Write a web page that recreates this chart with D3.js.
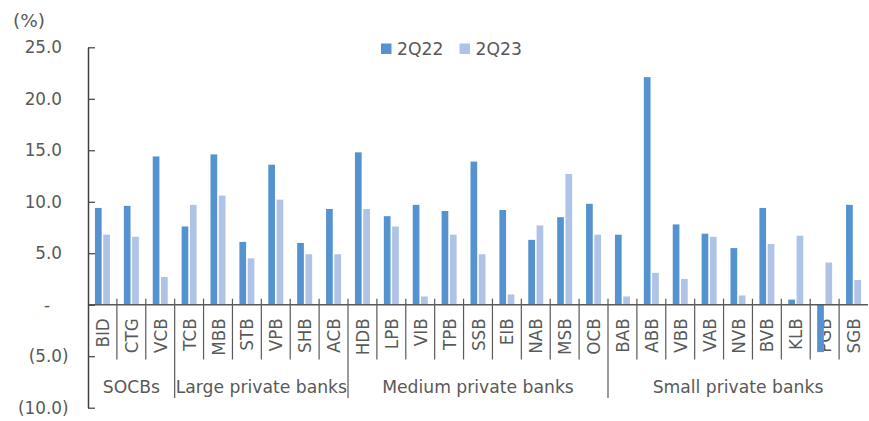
<!DOCTYPE html>
<html>
<head>
<meta charset="utf-8">
<script src="https://cdn.jsdelivr.net/npm/d3@7"></script>
<style>
  html, body { margin: 0; padding: 0; background: #fff; }
  svg { display: block; font-family: "DejaVu Sans", Verdana, sans-serif; }
</style>
</head>
<body>
<svg id="chart" width="869" height="421"></svg>
<script>
// ---- data ----
const categories = ["BID","CTG","VCB","TCB","MBB","STB","VPB","SHB","ACB","HDB","LPB","VIB","TPB","SSB","EIB","NAB","MSB","OCB","BAB","ABB","VBB","VAB","NVB","BVB","KLB","PGB","SGB"];
const groups = ["SOCBs","Large private banks","Medium private banks","Small private banks"];
const groupSizes = [3, 6, 9, 9];
const seriesNames = ["2Q22","2Q23"];
const values2Q22 = [9.4, 9.6, 14.4, 7.6, 14.6, 6.1, 13.6, 6.0, 9.3, 14.8, 8.6, 9.7, 9.1, 13.9, 9.2, 6.3, 8.5, 9.8, 6.8, 22.1, 7.8, 6.9, 5.5, 9.4, 0.5, -4.6, 9.7];
const values2Q23 = [6.8, 6.6, 2.7, 9.7, 10.6, 4.5, 10.2, 4.9, 4.9, 9.3, 7.6, 0.8, 6.8, 4.9, 1.0, 7.7, 12.7, 6.8, 0.8, 3.1, 2.5, 6.6, 0.9, 5.9, 6.7, 4.1, 2.4];
const yTicks = [-10, -5, 0, 5, 10, 15, 20, 25];
const colors = ["#5592D0", "#AEC3E7"];

// ---- layout ----
const svg = d3.select("#chart");
const plotLeft = 88, plotRight = 868, plotTop = 47.3, plotBottom = 407.7;
const textColor = "#595959";
const axisColor = "#595959";

const x = d3.scaleBand().domain(categories).range([plotLeft, plotRight]).paddingInner(0).paddingOuter(0);
const xs = d3.scaleBand().domain(seriesNames).range([0, x.bandwidth()]).paddingInner(0.193).paddingOuter(0.837);
const y = d3.scaleLinear().domain([-10, 25]).range([plotBottom, plotTop]);

const seriesData = [values2Q22, values2Q23];

// category labels (drawn before bars so bars overlap them)
svg.append("g").selectAll("text").data(categories).join("text")
  .attr("transform", d => `translate(${x(d) + x.bandwidth()/2 + 0.5},${y(0) + 13.5}) rotate(-90)`)
  .attr("text-anchor", "end")
  .attr("dy", "0.36em")
  .attr("font-size", 16.8)
  .attr("fill", textColor)
  .text(d => d);

// separators
const groupStarts = [];
let acc = 0;
groupSizes.forEach(s => { groupStarts.push(acc); acc += s; });
const sepG = svg.append("g").attr("stroke", axisColor).attr("stroke-width", 1.2);
d3.range(1, categories.length).forEach(i => {
  const isGroup = groupStarts.includes(i);
  const xx = plotLeft + i * x.step();
  sepG.append("line")
    .attr("x1", xx).attr("x2", xx)
    .attr("y1", y(0) - 6).attr("y2", isGroup ? 398 : 359.5);
});

// group labels
svg.append("g").selectAll("text").data(groups).join("text")
  .attr("x", (d, i) => {
    const a = plotLeft + groupStarts[i] * x.step();
    const b = plotLeft + (groupStarts[i] + groupSizes[i]) * x.step();
    return (a + b) / 2;
  })
  .attr("y", 387)
  .attr("dy", "0.36em")
  .attr("text-anchor", "middle")
  .attr("font-size", 17.2)
  .attr("fill", textColor)
  .text(d => d);

// bars
seriesNames.forEach((s, si) => {
  svg.append("g").selectAll("rect").data(categories).join("rect")
    .attr("x", d => x(d) + xs(s))
    .attr("width", xs.bandwidth())
    .attr("y", (d, i) => y(Math.max(0, seriesData[si][i])))
    .attr("height", (d, i) => Math.abs(y(seriesData[si][i]) - y(0)))
    .attr("fill", colors[si]);
});

// zero line
svg.append("line")
  .attr("x1", plotLeft).attr("x2", plotRight)
  .attr("y1", y(0)).attr("y2", y(0))
  .attr("stroke", axisColor).attr("stroke-width", 1.5);

// y axis
const yAxis = d3.axisLeft(y)
  .tickValues(yTicks)
  .tickSizeInner(-7)
  .tickSizeOuter(0)
  .tickPadding(26)
  .tickFormat(v => v > 0 ? d3.format(".1f")(v) : v < 0 ? "(" + d3.format(".1f")(-v) + ")" : "-");
const yg = svg.append("g").attr("transform", `translate(${plotLeft},0)`).call(yAxis);
yg.select(".domain").attr("stroke", "#404040").attr("stroke-width", 1.5);
yg.selectAll(".tick line").attr("stroke", "#404040").attr("stroke-width", 1.2);
yg.selectAll(".tick text")
  .attr("font-size", 16.8)
  .attr("font-family", "DejaVu Sans, Verdana, sans-serif")
  .attr("fill", textColor)
  .attr("x", d => d < 0 ? -19.5 : d === 0 ? -41 : -26)
  .attr("text-anchor", d => d === 0 ? "middle" : "end");

// unit label
svg.append("text")
  .attr("x", 13).attr("y", 20).attr("dy", "0.36em")
  .attr("font-size", 18.5).attr("fill", textColor)
  .text("(%)");

// legend
const legend = svg.append("g");
const legendX = [381, 459.5];
seriesNames.forEach((s, i) => {
  legend.append("rect")
    .attr("x", legendX[i]).attr("y", 43.5)
    .attr("width", 10.5).attr("height", 10.5)
    .attr("fill", colors[i]);
  legend.append("text")
    .attr("x", legendX[i] + 16).attr("y", 48.8).attr("dy", "0.36em")
    .attr("font-size", 17.2).attr("fill", textColor)
    .text(s);
});
</script>
</body>
</html>
